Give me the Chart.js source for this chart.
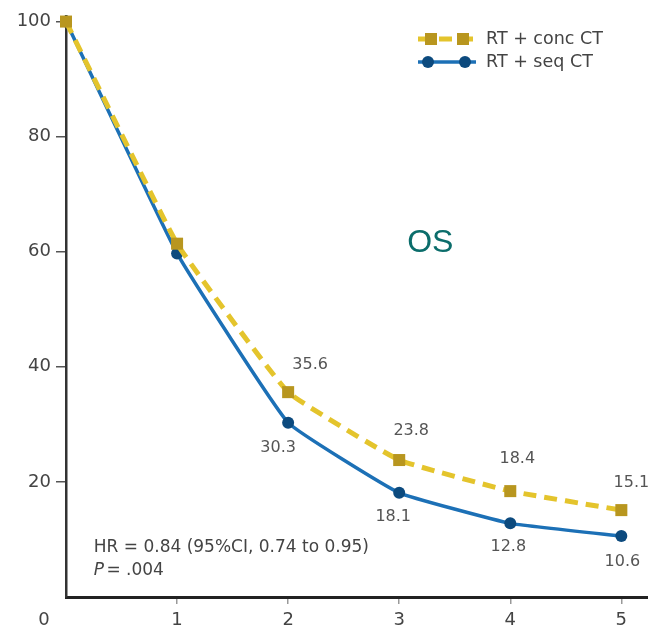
<!DOCTYPE html>
<html>
<head>
<meta charset="utf-8">
<script src="https://cdn.jsdelivr.net/npm/chart.js@4.4.1/dist/chart.umd.min.js"></script>
<style>
  html, body { margin: 0; padding: 0; background: #fff; }
  #wrap { width: 648px; height: 635px; }
</style>
</head>
<body>
<div id="wrap"><canvas id="chart" width="648" height="635"></canvas></div>
<script>
/* ---- datos ---- */
const years      = [0, 1, 2, 3, 4, 5];
const concValues = [100, 61.4, 35.6, 23.8, 18.4, 15.1];
const seqValues  = [100, 59.7, 30.3, 18.1, 12.8, 10.6];
const yTicks     = [0, 20, 40, 60, 80, 100];
const xTicks     = [1, 2, 3, 4, 5];
const seriesNames = ['RT + conc CT', 'RT + seq CT'];

// desplazamiento de las etiquetas de valor (px), sin etiqueta en los años 0 y 1
const concLabelOffset = [null, null, [22, -27], [12, -29], [7, -32], [10, -27]];
const seqLabelOffset  = [null, null, [-10, 25], [-6, 24], [-2, 24], [1, 26]];

const FONT = "'DejaVu Sans', Verdana, sans-serif";
const FONT_OS = "'Liberation Sans', Arial, sans-serif";
const GOLD_LINE = '#e4c42c';
const GOLD_MARK = '#b8961f';
const BLUE_LINE = '#1c70b6';
const BLUE_MARK = '#0c4a7e';

const toPoints = vals => vals.map((v, i) => ({ x: years[i], y: v }));

// etiquetas, leyenda y textos sueltos
const overlayPlugin = {
  id: 'overlay',
  afterDatasetsDraw(chart) {
    const { ctx, scales: { x, y } } = chart;
    ctx.save();

    // valores sobre los puntos
    ctx.font = `16px ${FONT}`;
    ctx.fillStyle = '#555';
    ctx.textAlign = 'center';
    ctx.textBaseline = 'middle';
    [[0, concValues, concLabelOffset], [1, seqValues, seqLabelOffset]].forEach(([di, vals, offs]) => {
      const meta = chart.getDatasetMeta(di);
      vals.forEach((v, i) => {
        if (!offs[i]) return;
        const p = meta.data[i];
        ctx.fillText(v.toFixed(1), p.x + offs[i][0], p.y + offs[i][1]);
      });
    });

    // "0" de la esquina
    ctx.font = `18px ${FONT}`;
    ctx.fillStyle = '#444';
    ctx.fillText('0', x.left - 22, y.bottom + 23);

    // OS
    ctx.font = `32px ${FONT_OS}`;
    ctx.fillStyle = '#0b6d6b';
    ctx.fillText('OS', x.getPixelForValue(3.28), y.getPixelForValue(61.5));

    // HR / P
    ctx.textAlign = 'left';
    ctx.font = `17px ${FONT}`;
    ctx.fillStyle = '#444';
    const tx = x.getPixelForValue(0.25);
    ctx.fillText('HR = 0.84 (95%CI, 0.74 to 0.95)', tx, y.getPixelForValue(8.6));
    ctx.font = `italic 17px ${FONT}`;
    ctx.fillText('P', tx, y.getPixelForValue(4.6));
    const pw = ctx.measureText('P ').width;
    ctx.font = `17px ${FONT}`;
    ctx.fillText('= .004', tx + pw - 3, y.getPixelForValue(4.6));

    // leyenda
    const lx0 = 418, lx1 = 476, ly = [39, 62];
    ctx.lineCap = 'butt';
    // conc
    ctx.strokeStyle = GOLD_LINE;
    ctx.lineWidth = 5;
    ctx.setLineDash([13, 8]);
    ctx.beginPath(); ctx.moveTo(lx0, ly[0]); ctx.lineTo(lx1, ly[0]); ctx.stroke();
    ctx.setLineDash([]);
    ctx.fillStyle = GOLD_MARK;
    [431, 463].forEach(px => ctx.fillRect(px - 6, ly[0] - 6, 12, 12));
    // seq
    ctx.strokeStyle = BLUE_LINE;
    ctx.lineWidth = 3.5;
    ctx.beginPath(); ctx.moveTo(lx0, ly[1]); ctx.lineTo(lx1, ly[1]); ctx.stroke();
    ctx.fillStyle = BLUE_MARK;
    [428, 465].forEach(px => { ctx.beginPath(); ctx.arc(px, ly[1], 6, 0, Math.PI * 2); ctx.fill(); });

    ctx.font = `17.5px ${FONT}`;
    ctx.fillStyle = '#444';
    ctx.fillText(seriesNames[0], 486, ly[0]);
    ctx.fillText(seriesNames[1], 486, ly[1]);

    ctx.restore();
  }
};

new Chart(document.getElementById('chart').getContext('2d'), {
  type: 'line',
  data: {
    datasets: [
      {
        label: seriesNames[0], data: toPoints(concValues),
        borderColor: GOLD_LINE, borderWidth: 5, borderDash: [13, 8],
        pointStyle: 'rect', pointRadius: 8.5, pointBorderWidth: 0,
        pointBackgroundColor: GOLD_MARK, tension: 0.1, fill: false
      },
      {
        label: seriesNames[1], data: toPoints(seqValues),
        borderColor: BLUE_LINE, borderWidth: 3.5,
        pointStyle: 'circle', pointRadius: 6, pointBorderWidth: 0,
        pointBackgroundColor: BLUE_MARK, tension: 0.1, fill: false
      }
    ]
  },
  options: {
    responsive: false,
    animation: false,
    clip: false,
    layout: { autoPadding: false, padding: { top: 8, right: 0, left: 0, bottom: 0 } },
    plugins: { legend: { display: false }, tooltip: { enabled: false } },
    scales: {
      x: {
        type: 'linear', min: 0, max: 5.24,
        afterBuildTicks: s => { s.ticks = xTicks.map(v => ({ value: v })); },
        afterFit: s => { s.height = 38; },
        border: { color: '#222', width: 3 },
        grid: { drawOnChartArea: false, tickLength: 7, color: '#999', lineWidth: 1.5 },
        ticks: { padding: 6, color: '#444', font: { family: FONT, size: 18 }, maxRotation: 0 }
      },
      y: {
        min: 0, max: 101,
        afterBuildTicks: s => { s.ticks = yTicks.map(v => ({ value: v })); },
        afterFit: s => { s.width = 66; },
        border: { color: '#333', width: 2.5 },
        grid: {
          drawOnChartArea: false, tickLength: 10, lineWidth: 1.5,
          color: c => (c.tick && c.tick.value === 0 ? 'rgba(0,0,0,0)' : '#555')
        },
        ticks: {
          padding: 5, color: '#444', font: { family: FONT, size: 18 },
          callback: v => (v === 0 ? '' : v)
        }
      }
    }
  },
  plugins: [overlayPlugin]
});
</script>
</body>
</html>
